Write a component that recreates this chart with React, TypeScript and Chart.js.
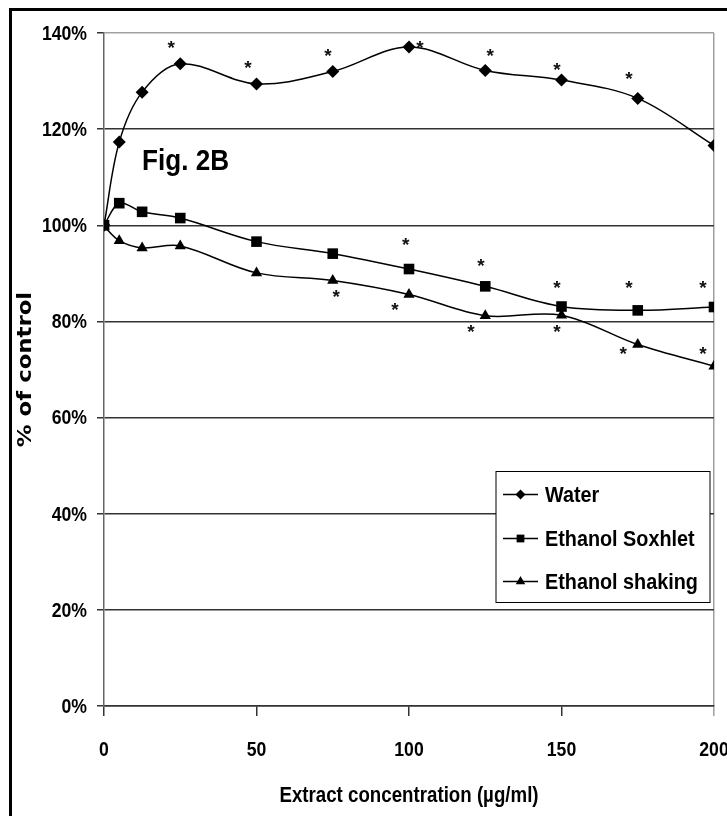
import React, { useEffect, useRef } from 'react';
import { Chart, registerables } from 'chart.js';
import { drawPoint } from 'chart.js/helpers';

Chart.register(...registerables);

// ---- data ----
const concentrations = [0, 5, 12.5, 25, 50, 75, 100, 125, 150, 175, 200];
const water = [100, 117.3, 127.7, 133.6, 129.4, 132.0, 137.1, 132.2, 130.2, 126.4, 116.6];
const soxhlet = [100, 104.6, 102.8, 101.5, 96.6, 94.1, 90.9, 87.3, 83.1, 82.3, 83.0];
const shaking = [99.8, 96.8, 95.3, 95.7, 90.1, 88.5, 85.6, 81.2, 81.3, 75.2, 70.7];
const seriesLabels = ['Water', 'Ethanol Soxhlet', 'Ethanol shaking'];
const seriesStyles = ['rectRot', 'rect', 'triangle'];

// significance markers (*) positions in data units
const waterStarX = [22.0, 47.2, 73.4, 103.6, 126.6, 148.5, 172.1];
const waterStarY = [137.8, 133.6, 136.0, 137.8, 136.0, 133.2, 131.2];
const soxhletStarX = [98.9, 123.6, 148.5, 172.1, 196.4];
const soxhletStarY = [96.8, 92.4, 87.8, 87.8, 87.8];
const shakingStarX = [76.1, 95.4, 120.3, 148.5, 170.2, 196.4];
const shakingStarY = [86.0, 83.3, 78.7, 78.7, 74.1, 74.1];

const figLabel = 'Fig. 2B';
const xTitle = 'Extract concentration (\u00b5g/ml)';
const yTitle = '% of control';
const xMin = 0, xMax = 200, xStep = 50;
const yMin = 0, yMax = 140, yStep = 20;

const SANS = "'Liberation Sans', Arial, sans-serif";
const CLEAR = 'rgba(0,0,0,0)';

const toPts = (ys: number[]) => ys.map((y, i) => ({ x: concentrations[i], y }));
const zip = (xs: number[], ys: number[]) => xs.map((x, i) => ({ x, y: ys[i] }));

function drawText(
  ctx: CanvasRenderingContext2D,
  text: string,
  x: number,
  y: number,
  font: string,
  sx: number,
  align: CanvasTextAlign,
  baseline: CanvasTextBaseline,
  rot = 0,
) {
  ctx.save();
  ctx.translate(x, y);
  if (rot) ctx.rotate(rot);
  ctx.scale(sx, 1);
  ctx.font = font;
  ctx.textAlign = align;
  ctx.textBaseline = baseline;
  ctx.fillStyle = '#000';
  ctx.fillText(text, 0, 0);
  ctx.restore();
}

const extrasPlugin = {
  id: 'extras',
  afterDatasetsDraw(chart: any) {
    const { ctx, chartArea: ca, scales } = chart;
    const xs = scales.x, ys = scales.y;
    ctx.save();
    // asterisks
    ctx.fillStyle = '#111';
    ctx.font = `bold 19px ${SANS}`;
    ctx.textAlign = 'center';
    ctx.textBaseline = 'alphabetic';
    const stars = [...zip(waterStarX, waterStarY), ...zip(soxhletStarX, soxhletStarY), ...zip(shakingStarX, shakingStarY)];
    stars.forEach((p) => {
      ctx.fillText('*', xs.getPixelForValue(p.x), ys.getPixelForValue(p.y) + 10);
    });
    // figure label
    drawText(ctx, figLabel, ca.left + 38, ca.top + 137, `bold 30px ${SANS}`, 0.87, 'left', 'alphabetic');
    // legend
    const bx = ca.right - 218, by = ca.top + 438.5, bw = 214, bh = 131;
    ctx.fillStyle = '#fff';
    ctx.fillRect(bx, by, bw, bh);
    ctx.strokeStyle = '#000';
    ctx.lineWidth = 1;
    ctx.strokeRect(bx, by, bw, bh);
    const rows = [23, 67, 110];
    const radii = [5, 5.5, 5.5];
    chart.data.datasets.forEach((ds: any, i: number) => {
      const cy = by + rows[i];
      ctx.strokeStyle = '#000';
      ctx.lineWidth = 1.5;
      ctx.beginPath();
      ctx.moveTo(bx + 7, cy);
      ctx.lineTo(bx + 42, cy);
      ctx.stroke();
      ctx.fillStyle = '#000';
      drawPoint(ctx, { pointStyle: ds.pointStyle, rotation: 0, radius: radii[i], borderWidth: 0 }, bx + 24.5, cy);
      drawText(ctx, ds.label, bx + 49, cy + 1, `bold 22px ${SANS}`, 0.9, 'left', 'middle');
    });
    ctx.restore();
  },
  afterDraw(chart: any) {
    const { ctx, chartArea: ca, scales } = chart;
    const xs = scales.x, ys = scales.y;
    // tick labels (condensed)
    ys.ticks.forEach((t: any) => {
      drawText(ctx, String(ys.options.ticks.callback(t.value)), ca.left - 17, ys.getPixelForValue(t.value) + 1, `bold 21px ${SANS}`, 0.84, 'right', 'middle');
    });
    xs.ticks.forEach((t: any) => {
      drawText(ctx, String(t.value), xs.getPixelForValue(t.value), ca.bottom + 44, `bold 21px ${SANS}`, 0.84, 'center', 'middle');
    });
    // axis titles
    drawText(ctx, xs.options.title.text, (ca.left + ca.right) / 2, ca.bottom + 90, `bold 22px ${SANS}`, 0.85, 'center', 'middle');
    drawText(ctx, ys.options.title.text, 26, (ca.top + ca.bottom) / 2, "bold 20px 'DejaVu Sans', sans-serif", 1.14, 'center', 'middle', -Math.PI / 2);
    // outer frame
    ctx.save();
    ctx.fillStyle = '#000';
    ctx.fillRect(9, 8, 3, 816);
    ctx.fillRect(9, 8, 727, 3);
    ctx.restore();
  },
};

export default function App() {
  const ref = useRef<HTMLCanvasElement | null>(null);
  useEffect(() => {
    if (!ref.current) return;
    const mk = (i: number, ys: number[], r: number) => ({
      label: seriesLabels[i],
      data: toPts(ys),
      borderColor: '#000',
      backgroundColor: '#000',
      borderWidth: 1.5,
      pointStyle: seriesStyles[i],
      pointRadius: r,
      pointBackgroundColor: '#000',
      pointBorderWidth: 0,
      tension: 0.35,
      fill: false,
    });
    const chart = new Chart(ref.current, {
      type: 'line',
      data: {
        datasets: [mk(0, water, 6.5), mk(1, soxhlet, 7.5), mk(2, shaking, 6.5)],
      },
      options: {
        animation: false,
        responsive: false,
        maintainAspectRatio: false,
        layout: { padding: { left: 0, right: 13, top: 33, bottom: 0 } },
        plugins: { legend: { display: false }, tooltip: { enabled: false } },
        scales: {
          x: {
            type: 'linear',
            min: xMin,
            max: xMax,
            afterFit: (s: any) => {
              s.height = 110;
              s.paddingLeft = 0;
              s.paddingRight = 0;
            },
            ticks: {
              stepSize: xStep,
              color: CLEAR,
              padding: 21,
              maxRotation: 0,
              font: { family: SANS, size: 20, weight: 'bold' },
            },
            grid: {
              color: (c: any) => (c.tick && c.tick.value === xMax ? '#a0a0a0' : CLEAR),
              tickColor: (c: any) => (c.tick && c.tick.value === xMax ? '#a0a0a0' : '#333'),
              tickLength: 10,
              lineWidth: 1.5,
            },
            border: { color: '#333', width: 1.5 },
            title: {
              display: true,
              text: xTitle,
              color: CLEAR,
              font: { family: SANS, size: 21, weight: 'bold' },
              padding: { top: 0, bottom: 9 },
            },
          },
          y: {
            type: 'linear',
            min: yMin,
            max: yMax,
            afterFit: (s: any) => {
              s.width = 104;
              s.paddingTop = 0;
              s.paddingBottom = 0;
            },
            ticks: {
              stepSize: yStep,
              color: CLEAR,
              padding: 10,
              callback: (v: any) => `${v}%`,
              font: { family: SANS, size: 20, weight: 'bold' },
            },
            grid: {
              color: (c: any) => (c.tick && c.tick.value === yMax ? '#a0a0a0' : '#333'),
              tickColor: '#333',
              tickLength: 7,
              lineWidth: 1.5,
            },
            border: { color: '#666', width: 1.5 },
            title: {
              display: true,
              text: yTitle,
              color: CLEAR,
              font: { family: "'DejaVu Sans', sans-serif", size: 20, weight: 'bold' },
              padding: { top: 13, bottom: 0 },
            },
          },
        },
      },
      plugins: [extrasPlugin],
    });
    return () => chart.destroy();
  }, []);
  return (
    <div style={{ position: 'absolute', left: 0, top: 0, width: 727, height: 816, background: '#fff' }}>
      <canvas ref={ref} width={727} height={816} style={{ display: 'block' }} />
    </div>
  );
}
